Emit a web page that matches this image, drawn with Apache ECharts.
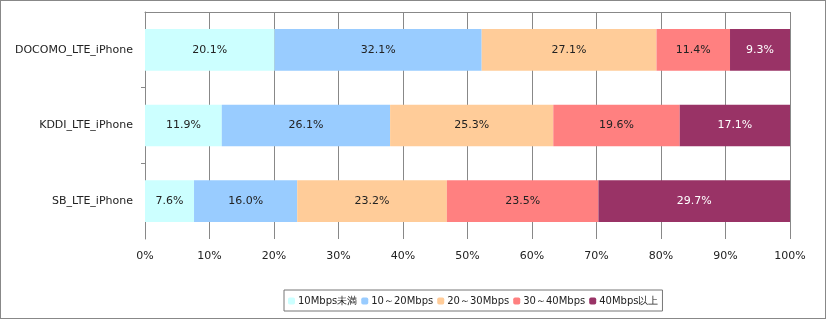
<!DOCTYPE html>
<html><head><meta charset="utf-8">
<script src="https://cdn.jsdelivr.net/npm/echarts@6/dist/echarts.min.js"></script>
<style>html,body{margin:0;padding:0;background:#fff}#c{width:826px;height:319px;box-sizing:border-box;border:1px solid #888}</style>
</head><body><div id="c"></div>
<script>
const categories = ['DOCOMO_LTE_iPhone','KDDI_LTE_iPhone','SB_LTE_iPhone'];
const seriesNames = ['10Mbps未満','10～20Mbps','20～30Mbps','30～40Mbps','40Mbps以上'];
const s1 = [20.1, 11.9, 7.6];
const s2 = [32.1, 26.1, 16.0];
const s3 = [27.1, 25.3, 23.2];
const s4 = [11.4, 19.6, 23.5];
const s5 = [9.3, 17.1, 29.7];
const colors = ['#CCFFFF','#99CCFF','#FFCC99','#FF8080','#993366'];
const labelColors = ['#222','#222','#222','#222','#fff'];
const font = 'DejaVu Sans';
const chart = echarts.init(document.getElementById('c'));
const data = [s1,s2,s3,s4,s5];
chart.setOption({
  animation:false,
  textStyle:{fontFamily:font},
  grid:{left:144,right:35,top:11,bottom:79},
  legend:{bottom:7,left:283,itemWidth:7,itemHeight:7,itemGap:4,
    borderColor:'#777',borderWidth:1,padding:[6,4,5,4],
    textStyle:{fontFamily:font,fontSize:10,color:'#222',padding:[0,0,0,-2]},
    data:seriesNames},
  xAxis:{type:'value',min:0,max:100,interval:10,
    axisLine:{show:true,lineStyle:{color:'#888'}},
    axisTick:{show:false},
    splitLine:{show:true,lineStyle:{color:'#888'}},
    axisLabel:{formatter:v=>v+'%',fontFamily:font,fontSize:11,color:'#222',margin:12}},
  yAxis:[{type:'category',data:categories,inverse:true,
    axisLine:{show:true,lineStyle:{color:'#888'}},
    axisTick:{show:false},
    axisLabel:{fontFamily:font,fontSize:11,color:'#222',margin:12}},
    {type:'value',min:0,max:3,inverse:true,position:'left',
    axisLine:{show:false},splitLine:{show:false},
    axisLabel:{show:false},
    axisTick:{show:true,inside:false,length:4,customValues:[1,2],lineStyle:{color:'#888'}}}],
  series:data.map((d,i)=>({name:seriesNames[i],type:'bar',stack:'a',barWidth:'55%',yAxisIndex:0,
    itemStyle:{color:colors[i]},
    label:{show:true,position:'inside',formatter:p=>p.value.toFixed(1)+'%',fontFamily:font,fontSize:11,color:labelColors[i]},
    data:d}))
});
</script></body></html>
